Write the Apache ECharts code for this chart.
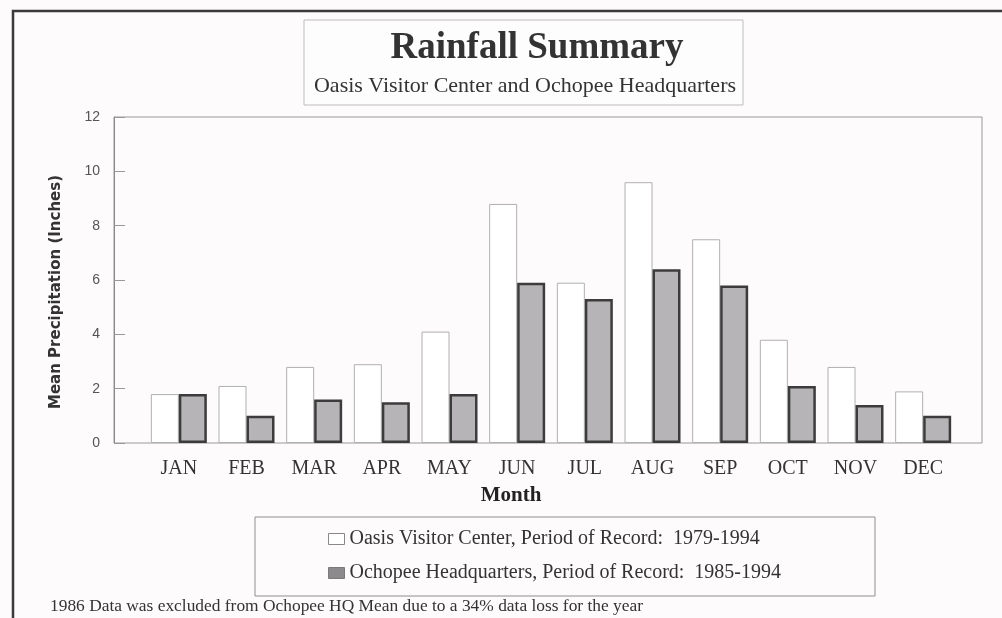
<!DOCTYPE html>
<html>
<head>
<meta charset="utf-8">
<title>Rainfall Summary</title>
<script src="https://cdn.jsdelivr.net/npm/echarts@6/dist/echarts.min.js"></script>
<style>
html,body{margin:0;padding:0;background:#fdfbfc;}
#chart{width:1002px;height:618px;}
</style>
</head>
<body>
<div id="chart"></div>
<script>
// data (inches)
var months = ["JAN","FEB","MAR","APR","MAY","JUN","JUL","AUG","SEP","OCT","NOV","DEC"];
var oasis = [1.8, 2.1, 2.8, 2.9, 4.1, 8.8, 5.9, 9.6, 7.5, 3.8, 2.8, 1.9];
var ochopee = [1.8, 1.0, 1.6, 1.5, 1.8, 5.9, 5.3, 6.4, 5.8, 2.1, 1.4, 1.0];
var yTicks = [0, 2, 4, 6, 8, 10, 12];
var seriesNames = [
    "Oasis Visitor Center, Period of Record:  1979-1994",
    "Ochopee Headquarters, Period of Record:  1985-1994"
];

var serif = "'Liberation Serif','Times New Roman',serif";

var myChart = echarts.init(document.getElementById('chart'));

var option = {
    backgroundColor: '#fdfbfc',
    animation: false,
    grid: [
        // outer plot frame with the value axis
        {left: 114, right: 20, top: 117, bottom: 175, show: true, borderColor: '#9a9a9a', borderWidth: 1, backgroundColor: 'transparent'},
        // bars sit in a narrower band inside the frame
        {left: 145, right: 45, top: 117, bottom: 175}
    ],
    xAxis: [
        {gridIndex: 0, type: 'value', show: false, min: 0, max: 1},
        {
            gridIndex: 1,
            type: 'category',
            data: months,
            axisLine: {show: false},
            axisTick: {show: false},
            axisLabel: {
                margin: 16,
                color: '#333',
                fontFamily: serif,
                fontSize: 20
            },
            name: 'Month',
            nameLocation: 'middle',
            nameGap: 42,
            nameTextStyle: {
                color: '#222',
                fontFamily: serif,
                fontWeight: 'bold',
                fontSize: 21,
                padding: [0, 80, 0, 0]
            }
        }
    ],
    yAxis: [
        {
            gridIndex: 0,
            type: 'value',
            min: yTicks[0],
            max: yTicks[yTicks.length - 1],
            interval: yTicks[1] - yTicks[0],
            axisLine: {show: true, lineStyle: {color: '#8a8a8a', width: 1}},
            axisTick: {show: true, inside: true, length: 11, lineStyle: {color: '#999'}},
            splitLine: {show: false},
            axisLabel: {
                margin: 14,
                color: '#555',
                fontFamily: "'Liberation Sans',Arial,sans-serif",
                fontSize: 14
            },
            name: 'Mean Precipitation (Inches)',
            nameLocation: 'middle',
            nameGap: 50,
            nameTextStyle: {
                color: '#333',
                fontFamily: "'DejaVu Sans',sans-serif",
                fontWeight: 'bold',
                fontSize: 15,
                padding: [0, 24, 0, 0]
            }
        },
        {
            gridIndex: 1,
            type: 'value',
            show: false,
            min: yTicks[0],
            max: yTicks[yTicks.length - 1]
        }
    ],
    legend: {
        orient: 'vertical',
        left: 328,
        top: 529,
        padding: 0,
        itemGap: 14,
        itemWidth: 16,
        itemHeight: 11,
        icon: 'rect',
        textStyle: {
            color: '#333',
            fontFamily: serif,
            fontSize: 20
        },
        data: [
            {name: seriesNames[0], itemStyle: {color: '#fff', borderColor: '#888', borderWidth: 1}},
            {name: seriesNames[1], itemStyle: {color: '#8c8a8c', borderColor: '#7a7a7a', borderWidth: 1}}
        ]
    },
    graphic: [
        // scanned page border (top and left edges)
        {
            type: 'polyline',
            silent: true,
            shape: {points: [[13, 618], [13, 11], [1002, 11]]},
            style: {stroke: '#3a3a3a', lineWidth: 2.5, fill: null}
        },
        // title box
        {
            type: 'rect',
            silent: true,
            shape: {x: 304, y: 20, width: 439, height: 85},
            style: {stroke: '#bdbdbd', lineWidth: 1, fill: '#fefdfe'}
        },
        {
            type: 'text',
            silent: true,
            x: 537, y: 48,
            style: {
                text: 'Rainfall Summary',
                fill: '#333',
                font: 'bold 37px ' + serif,
                textAlign: 'center',
                textVerticalAlign: 'middle'
            }
        },
        {
            type: 'text',
            silent: true,
            x: 525, y: 86,
            style: {
                text: 'Oasis Visitor Center and Ochopee Headquarters',
                fill: '#333',
                font: '22px ' + serif,
                textAlign: 'center',
                textVerticalAlign: 'middle'
            }
        },
        // legend box
        {
            type: 'rect',
            silent: true,
            z: -1,
            shape: {x: 255, y: 517, width: 620, height: 79},
            style: {stroke: '#8f8f8f', lineWidth: 1, fill: 'transparent'}
        },
        // footnote
        {
            type: 'text',
            silent: true,
            x: 50, y: 606,
            style: {
                text: '1986 Data was excluded from Ochopee HQ Mean due to a 34% data loss for the year',
                fill: '#333',
                font: '17.4px ' + serif,
                textVerticalAlign: 'middle'
            }
        }
    ],
    series: [
        {
            name: seriesNames[0],
            type: 'bar',
            xAxisIndex: 1,
            yAxisIndex: 1,
            data: oasis,
            barWidth: 28,
            barGap: '0%',
            itemStyle: {color: '#ffffff', borderColor: '#b0b0b0', borderWidth: 1}
        },
        {
            name: seriesNames[1],
            type: 'bar',
            xAxisIndex: 1,
            yAxisIndex: 1,
            data: ochopee,
            barWidth: 28,
            barGap: '0%',
            itemStyle: {color: '#b6b4b6', borderColor: '#3c3c3c', borderWidth: 2.5}
        }
    ]
};

myChart.setOption(option);
</script>
</body>
</html>
